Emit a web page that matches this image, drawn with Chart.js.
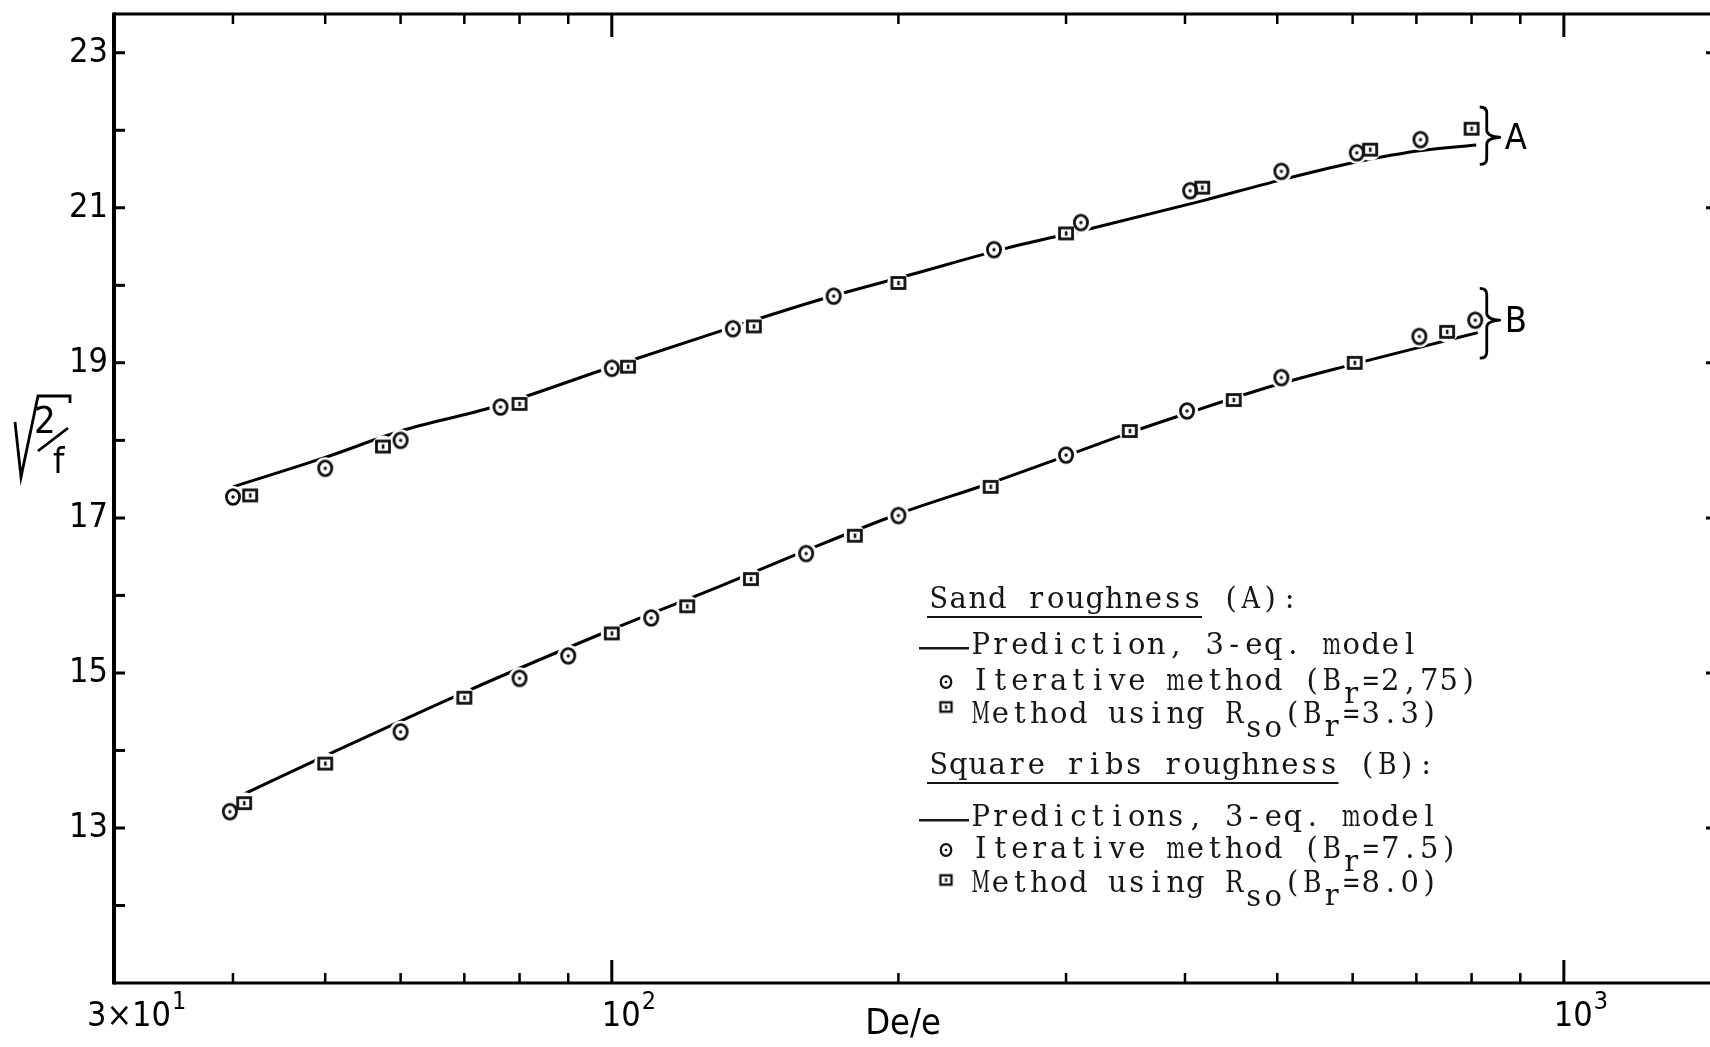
<!DOCTYPE html>
<html>
<head>
<meta charset="utf-8">
<title>sqrt(2/f) vs De/e</title>
<script src="https://cdn.jsdelivr.net/npm/chart.js@4.4.1/dist/chart.umd.min.js"></script>
<style>
  html, body { margin: 0; padding: 0; background: #fff; overflow: hidden; }
  canvas { display: block; }
</style>
</head>
<body>
<canvas id="chart" width="1710" height="1047"></canvas>
<script>
// sand roughness (A)
const sandIterX = [40, 50, 60, 76.4, 100, 134, 171, 252, 311, 405, 505, 606, 707];
const sandIterY = [17.27, 17.64, 18.0, 18.43, 18.93, 19.44, 19.86, 20.46, 20.81, 21.22, 21.47, 21.71, 21.88];
const sandRsoX = [41.7, 57.5, 80, 104, 141, 200, 300, 417, 626, 800];
const sandRsoY = [17.29, 17.92, 18.47, 18.95, 19.47, 20.03, 20.67, 21.26, 21.75, 22.02];
const sandPredX = [40, 50, 60, 75, 100, 130, 167, 205, 260, 318, 414, 505, 600, 660, 708, 809];
const sandPredY = [17.40, 17.78, 18.12, 18.43, 18.95, 19.41, 19.83, 20.13, 20.48, 20.73, 21.08, 21.36, 21.58, 21.68, 21.74, 21.81];

// square ribs roughness (B)
const ribsIterX = [39.7, 60, 80, 90, 110, 160, 200, 300, 402, 505, 705, 807];
const ribsIterY = [13.21, 14.24, 14.93, 15.22, 15.71, 16.54, 17.03, 17.81, 18.38, 18.81, 19.34, 19.55];
const ribsRsoX = [41.1, 50, 70, 100, 120, 140, 180, 250, 350, 450, 603, 754];
const ribsRsoY = [13.32, 13.83, 14.68, 15.51, 15.86, 16.21, 16.77, 17.40, 18.12, 18.52, 19.00, 19.40];
const ribsPredX = [40.8, 50, 70, 100, 130, 160, 200, 250, 300, 350, 400, 500, 600, 700, 812];
const ribsPredY = [13.42, 13.93, 14.75, 15.56, 16.12, 16.58, 17.05, 17.45, 17.80, 18.10, 18.34, 18.72, 18.98, 19.19, 19.39];

// x tick labels: mantissa x 10^exponent
const tickValues = [30, 100, 1000];
const tickMantissas = ["3×", "", ""];
const tickExponents = ["1", "2", "3"];

// braces at the right end of each group: top / nose / bottom in y units
const groupNames = ["A", "B"];
const groupBraces = [[22.30, 21.91, 21.56], [19.96, 19.55, 19.06]];

const SANS = '"Liberation Sans Narrow", "DejaVu Sans Condensed", "Liberation Sans", Arial, sans-serif';
const TYPE = '"DejaVu Serif", "Liberation Serif", serif';
const INK = "#000";

const pts = (xs, ys) => xs.map((x, i) => ({ x, y: ys[i] }));

function markerCanvas(shape, scale = 1) {
  const c = document.createElement("canvas");
  const s = Math.ceil(24 * scale);
  c.width = s;
  c.height = s;
  const g = c.getContext("2d");
  const m = s / 2;
  g.strokeStyle = "#111";
  g.fillStyle = "#111";
  g.lineWidth = 2.8 * scale;
  if (shape === "circle") {
    g.beginPath();
    g.ellipse(m, m, 6.6 * scale, 7.4 * scale, 0, 0, Math.PI * 2);
    g.stroke();
    g.beginPath();
    g.arc(m, m, 1.7 * scale, 0, Math.PI * 2);
    g.fill();
  } else {
    g.strokeRect(m - 6.5 * scale, m - 5.5 * scale, 13 * scale, 11 * scale);
    g.fillRect(m - 1.2 * scale, m - 2.2 * scale, 2.6 * scale, 4.4 * scale);
  }
  return c;
}

const circleMark = markerCanvas("circle");
const squareMark = markerCanvas("square");
const circleSmall = markerCanvas("circle", 0.8);
const squareSmall = markerCanvas("square", 0.85);

function drawBrace(ctx, xl, top, mid, bottom) {
  const xv = xl + 7, xn = xl + 20;
  ctx.beginPath();
  ctx.moveTo(xl, top);
  ctx.quadraticCurveTo(xv, top, xv, top + 6);
  ctx.lineTo(xv, mid - 7);
  ctx.quadraticCurveTo(xv, mid - 1, xn, mid);
  ctx.quadraticCurveTo(xv, mid + 1, xv, mid + 7);
  ctx.lineTo(xv, bottom - 6);
  ctx.quadraticCurveTo(xv, bottom, xl, bottom);
  ctx.stroke();
}

// typewriter style: every character centred in a fixed-pitch cell
function typeText(ctx, s, x0, base, cw) {
  for (let i = 0; i < s.length; i++) {
    if (s[i] === " ") continue;
    ctx.fillText(s[i], x0 + (i + 0.5) * cw, base, cw * 0.95);
  }
}

// one legend line; parts are [text, column, drop]
function typeLine(ctx, x0, base, cw, parts) {
  parts.forEach(([txt, col, drop]) => typeText(ctx, txt, x0 + col * cw, base + drop, cw));
}

const paperPlugin = {
  id: "paper",
  afterDraw(chart) {
    const { ctx, chartArea: a, scales: { x, y } } = chart;
    ctx.save();
    ctx.strokeStyle = INK;
    ctx.fillStyle = INK;

    // frame: top, bottom and the heavier left axis
    ctx.lineWidth = 3;
    ctx.beginPath();
    ctx.moveTo(a.left, a.top);
    ctx.lineTo(a.right, a.top);
    ctx.moveTo(a.left, a.bottom);
    ctx.lineTo(a.right, a.bottom);
    ctx.stroke();
    ctx.lineWidth = 4;
    ctx.beginPath();
    ctx.moveTo(a.left, a.top - 1.5);
    ctx.lineTo(a.left, a.bottom + 1.5);
    ctx.stroke();

    // inward ticks on y; only the tips of the right-hand ones show at the edge
    ctx.lineWidth = 3;
    y.ticks.forEach(t => {
      const v = t.value;
      if (!Number.isInteger(v) || v <= y.min || v >= y.max) return;
      const py = y.getPixelForValue(v);
      ctx.beginPath();
      ctx.moveTo(a.left, py);
      ctx.lineTo(a.left + 11, py);
      if (v % 2 === 1) {
        ctx.moveTo(a.right, py);
        ctx.lineTo(a.right - 4, py);
      }
      ctx.stroke();
    });

    // inward ticks on the log axis, top and bottom (whole significands only)
    x.ticks.forEach(t => {
      const v = t.value;
      if (v <= x.min + 1e-6 || v >= x.max - 1e-6) return;
      const lg = Math.log10(v);
      const sig = v / Math.pow(10, Math.floor(lg + 1e-9));
      if (Math.abs(sig - Math.round(sig)) > 1e-6) return;
      const major = Math.abs(lg - Math.round(lg)) < 1e-9;
      const len = major ? 23 : 10;
      const px = x.getPixelForValue(v);
      ctx.lineWidth = major ? 3 : 2.5;
      ctx.beginPath();
      ctx.moveTo(px, a.top);
      ctx.lineTo(px, a.top + len);
      ctx.moveTo(px, a.bottom);
      ctx.lineTo(px, a.bottom - len);
      ctx.stroke();
    });

    // x tick labels with raised exponents
    ctx.textAlign = "left";
    ctx.textBaseline = "alphabetic";
    tickValues.forEach((v, i) => {
      const px = x.getPixelForValue(v);
      const m = tickMantissas[i];
      ctx.font = `34px ${SANS}`;
      let cx = m ? px - 27 : px - 10;
      if (m) {
        ctx.fillText(m, cx, a.bottom + 43);
        cx += ctx.measureText(m).width;
      }
      ctx.fillText("10", cx, a.bottom + 43);
      cx += ctx.measureText("10").width + 1;
      ctx.font = `25px ${SANS}`;
      ctx.fillText(tickExponents[i], cx, a.bottom + 26);
    });

    // x title
    ctx.font = `36px ${SANS}`;
    ctx.textAlign = "center";
    ctx.fillText("De/e", 903, a.bottom + 51);

    // y title: radical over 2/f
    ctx.lineWidth = 2.8;
    ctx.lineJoin = "miter";
    ctx.beginPath();
    ctx.moveTo(15, 422);
    ctx.lineTo(21, 477);
    ctx.lineTo(38, 396);
    ctx.lineTo(70, 396);
    ctx.lineTo(70, 403);
    ctx.stroke();
    ctx.beginPath();
    ctx.moveTo(38, 451);
    ctx.lineTo(68, 428);
    ctx.stroke();
    ctx.textAlign = "left";
    ctx.font = `38px ${SANS}`;
    ctx.fillText("2", 34, 433);
    ctx.font = `36px ${SANS}`;
    ctx.fillText("f", 53, 473);

    // group braces
    ctx.lineWidth = 2.8;
    ctx.lineJoin = "round";
    const ends = [sandPredX[sandPredX.length - 1], ribsPredX[ribsPredX.length - 1]];
    groupBraces.forEach((b, i) => {
      const xl = Math.max(x.getPixelForValue(ends[0]), x.getPixelForValue(ends[1])) + 2;
      const [t, m, btm] = b.map(v => y.getPixelForValue(v));
      drawBrace(ctx, xl, t, m, btm);
      ctx.font = `36px ${SANS}`;
      ctx.textAlign = "left";
      ctx.fillText(groupNames[i], xl + 25, m + 12);
    });

    // legend block
    ctx.fillStyle = "#161616";
    ctx.font = `29px ${TYPE}`;
    ctx.textAlign = "center";
    const cw = 19.5;
    const hx = 929, tx = 971;
    const rows = [
      { base: 608, head: "Sand roughness (A):", under: 14 },
      { base: 654, dash: true, parts: [["Prediction, 3-eq. model", 0, 0]] },
      { base: 690, mark: circleSmall, dy: -8, parts: [["Iterative method (B", 0, 0], ["r", 19, 13], ["=2,75)", 20, 0]] },
      { base: 723, mark: squareSmall, dy: -16, parts: [["Method using R", 0, 0], ["so", 14, 14], ["(B", 16, 0], ["r", 18, 13], ["=3.3)", 19, 0]] },
      { base: 774, head: "Square ribs roughness (B):", under: 21 },
      { base: 826, dash: true, parts: [["Predictions, 3-eq. model", 0, 0]] },
      { base: 858, mark: circleSmall, dy: -8, parts: [["Iterative method (B", 0, 0], ["r", 19, 13], ["=7.5)", 20, 0]] },
      { base: 892, mark: squareSmall, dy: -12, parts: [["Method using R", 0, 0], ["so", 14, 14], ["(B", 16, 0], ["r", 18, 13], ["=8.0)", 19, 0]] }
    ];
    rows.forEach(r => {
      if (r.head) {
        typeText(ctx, r.head, hx, r.base, cw);
        ctx.fillRect(hx - 2, r.base + 8, r.under * cw + 2, 2);
        return;
      }
      if (r.dash) ctx.fillRect(919, r.base - 7, 50, 2.5);
      if (r.mark) ctx.drawImage(r.mark, 946 - r.mark.width / 2, r.base + r.dy - r.mark.height / 2);
      typeLine(ctx, tx, r.base, cw, r.parts);
    });

    ctx.restore();
  }
};

const halo = {
  data: [...pts(sandIterX, sandIterY), ...pts(sandRsoX, sandRsoY), ...pts(ribsIterX, ribsIterY), ...pts(ribsRsoX, ribsRsoY)],
  pointRadius: 11,
  pointBackgroundColor: "#fff",
  pointBorderWidth: 0,
  order: 2
};

const predLine = (xs, ys) => ({
  data: pts(xs, ys),
  showLine: true,
  borderColor: INK,
  borderWidth: 3,
  pointRadius: 0,
  cubicInterpolationMode: "monotone",
  order: 3
});

const marks = (xs, ys, img) => ({
  data: pts(xs, ys),
  pointStyle: img,
  pointRadius: 8,
  order: 1
});

new Chart(document.getElementById("chart"), {
  type: "scatter",
  data: {
    datasets: [
      predLine(sandPredX, sandPredY),
      predLine(ribsPredX, ribsPredY),
      halo,
      marks(sandIterX, sandIterY, circleMark),
      marks(sandRsoX, sandRsoY, squareMark),
      marks(ribsIterX, ribsIterY, circleMark),
      marks(ribsRsoX, ribsRsoY, squareMark)
    ]
  },
  options: {
    responsive: false,
    animation: false,
    devicePixelRatio: 1,
    layout: { autoPadding: false, padding: { top: 14, right: 0, bottom: 0, left: 0 } },
    plugins: { legend: { display: false }, tooltip: { enabled: false } },
    scales: {
      x: {
        type: "logarithmic",
        min: 30,
        max: 1424,
        grid: { display: false, drawTicks: false },
        border: { display: false },
        ticks: { display: false },
        afterFit: s => {
          s.height = 64;
          s.paddingLeft = 0;
          s.paddingRight = 0;
        }
      },
      y: {
        type: "linear",
        min: 11,
        max: 23.5,
        grid: { display: false, drawTicks: false },
        border: { display: false },
        ticks: {
          stepSize: 1,
          includeBounds: false,
          padding: 6,
          color: INK,
          font: { family: SANS, size: 34 },
          callback: v => (v >= 13 && v % 2 === 1 ? String(v) : "")
        },
        afterFit: s => {
          s.width = 114;
          s.paddingTop = 0;
          s.paddingBottom = 0;
        }
      }
    }
  },
  plugins: [paperPlugin]
});
</script>
</body>
</html>
